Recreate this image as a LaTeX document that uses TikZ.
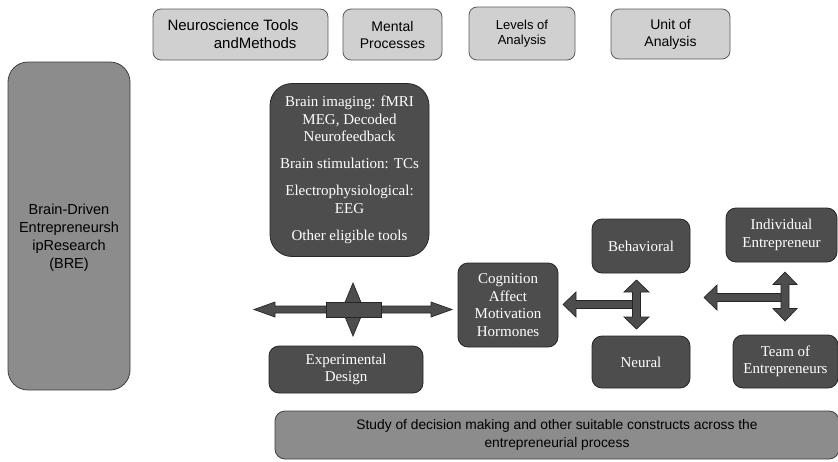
\documentclass[tikz,border=0pt]{standalone}
\usepackage{fontspec}
\setmainfont{Liberation Serif}
\setsansfont{Liberation Sans}
\definecolor{lightbox}{HTML}{D0D0D0}
\definecolor{midbox}{HTML}{8C8C8C}
\definecolor{darkfill}{HTML}{4D4D4D}
\definecolor{edgegray}{HTML}{5A5A5A}
\begin{document}
\begin{tikzpicture}[x=1pt,y=-1pt,
  topbox/.style={draw=edgegray, fill=lightbox, rounded corners=8pt, line width=0.8pt,
    font=\sffamily\fontsize{14}{17}\selectfont, align=center, inner sep=0pt},
  midboxst/.style={draw=edgegray!70!black, fill=midbox, line width=0.8pt, inner sep=0pt},
  darkbox/.style={draw=black!85, fill=darkfill, rounded corners=10pt, line width=0.8pt,
    text=white, font=\fontsize{15}{17.5}\selectfont, align=center, inner sep=0pt},
  blockarrow/.style={draw=black!85, fill=darkfill, line width=0.7pt, line join=miter}]
\useasboundingbox (0,0) rectangle (838,461);

% top header boxes
\node[topbox, minimum width=175pt, minimum height=51pt, align=right,
  font=\sffamily\fontsize{15}{18}\selectfont] (ntools) at (240.5,34.5)
  {Neuroscience Tools\hspace*{15pt}\\andMethods\hspace*{17pt}};
\node[topbox, minimum width=99pt, minimum height=51pt] (mental) at (392.5,34.5) {Mental\\Processes};
\node[topbox, minimum width=106pt, minimum height=53pt, font=\sffamily\fontsize{13}{15}\selectfont] (levels) at (522,33.5) {Levels of\\Analysis};
\node[topbox, minimum width=119pt, minimum height=50pt] (unit) at (670.5,34) {Unit of\\Analysis};

% BRE box
\node[midboxst, rounded corners=20pt, minimum width=122pt, minimum height=328pt] (bre) at (69,226) {};
\node[font=\sffamily\fontsize{14.5}{18}\selectfont, align=center, inner sep=0pt] (bretext) at (69,238)
  {Brain-Driven\\Entrepreneursh\\ipResearch\\(BRE)};

% tools box
\node[darkbox, rounded corners=22pt, minimum width=159pt, minimum height=173pt] (tools) at (349.5,170)
  {Brain imaging: fMRI\\MEG, Decoded\\Neurofeedback\\[9.5pt]Brain stimulation: TCs\\[9.5pt]Electrophysiological:\\EEG\\[9.5pt]Other eligible tools};

% central double arrow with diamond
\draw[blockarrow] (254,309.5) -- (275,302) -- (275,306) -- (431,306) -- (431,302) -- (452,309.5)
  -- (431,317) -- (431,313) -- (275,313) -- (275,317) -- cycle;
\draw[blockarrow] (353,283) -- (364,309.5) -- (353,336) -- (342,309.5) -- cycle;
\draw[blockarrow] (326,302) rectangle (381,317);

\node[darkbox, minimum width=154pt, minimum height=47pt] (expdesign) at (346,369.5) {Experimental\\Design};

\node[darkbox, minimum width=100pt, minimum height=84pt] (cog) at (508,305) {Cognition\\Affect\\Motivation\\Hormones};

\node[darkbox, minimum width=98pt, minimum height=54pt] (behav) at (641,246) {Behavioral};
\node[darkbox, minimum width=98pt, minimum height=52pt] (neural) at (641,362) {Neural};

\node[darkbox, minimum width=111pt, minimum height=54pt] (indiv) at (781.5,235) {Individual\\Entrepreneur};
\node[darkbox, minimum width=105pt, minimum height=53pt] (team) at (785.5,361.5) {Team of\\Entrepreneurs};

% left group arrows
\draw[blockarrow] (563,304.5) -- (576,292) -- (576,300.5) -- (636,300.5) -- (636,308.5) -- (576,308.5) -- (576,317) -- cycle;
\draw[blockarrow] (636.5,280) -- (649,292) -- (640.5,292) -- (640.5,317) -- (649,317) -- (636.5,329)
  -- (624,317) -- (632.5,317) -- (632.5,292) -- (624,292) -- cycle;

% right group arrows
\draw[blockarrow] (704,297.5) -- (717,285) -- (717,293.5) -- (785,293.5) -- (785,301.5) -- (717,301.5) -- (717,310) -- cycle;
\draw[blockarrow] (785,272) -- (797,284.5) -- (789,284.5) -- (789,308.5) -- (797,308.5) -- (785,321)
  -- (773,308.5) -- (781,308.5) -- (781,284.5) -- (773,284.5) -- cycle;

% bottom bar
\node[midboxst, rounded corners=10pt, minimum width=564pt, minimum height=48pt,
  font=\sffamily\fontsize{13.8}{18}\selectfont, align=center] (study) at (557,435)
  {Study of decision making and other suitable constructs across the\\entrepreneurial process};
\end{tikzpicture}
\end{document}
